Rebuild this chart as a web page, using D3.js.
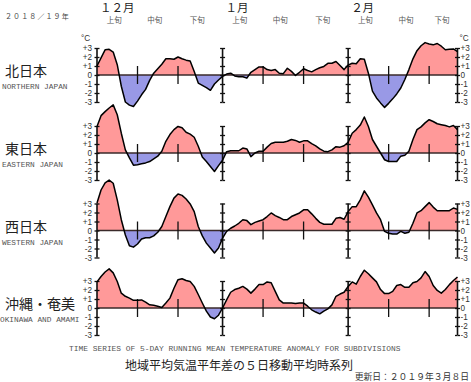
<!DOCTYPE html>
<html>
<head>
<meta charset="utf-8">
<script src="https://cdn.jsdelivr.net/npm/d3@7"></script>
<style>
body { margin:0; background:#fff; }
svg { display:block; }
</style>
</head>
<body>
<script>
// 5-day running mean anomaly, Dec 1 2018 .. Feb 28 2019 (one value per day)
var north = [1.0,1.9,2.8,2.85,2.55,1.15,-1.25,-3.0,-3.35,-3.5,-2.9,-2.2,-1.6,-0.6,0.2,0.7,1.2,1.8,1.8,1.75,2.0,1.8,1.65,1.55,0.4,-0.9,-1.15,-1.4,-1.7,-1.0,-0.55,
  -0.15,0.1,0.2,-0.1,-0.2,-0.2,-0.35,0.3,0.6,0.9,0.9,0.6,0.5,0.6,0.2,0.15,0.75,0.4,-0.05,0.3,0.7,0.5,0.35,0.6,0.8,0.95,1.3,1.3,1.5,1.05,0.6,
  1.1,1.3,1.25,1.8,1.75,0.2,-1.8,-2.55,-3.1,-3.6,-3.15,-2.65,-2.1,-1.45,-0.5,0.6,1.8,2.7,3.25,3.6,3.45,3.35,3.5,3.2,2.8,2.85,2.9,2.6];
var east = [2.95,4.15,4.6,5.0,5.35,4.25,2.2,0.35,-0.55,-1.35,-1.3,-1.2,-1.1,-0.95,-0.65,-0.35,0.2,1.3,2.05,2.6,2.95,2.8,2.3,2.1,1.75,0.75,-0.45,-0.95,-1.5,-2.05,-1.4,
  -0.8,0.15,0.25,0.25,0.25,0.55,0.45,-0.4,0.0,0.2,0.2,0.65,1.05,1.2,1.2,1.2,1.3,1.5,1.4,1.2,1.35,1.35,1.05,0.8,0.45,0.2,0.15,0.35,0.7,0.65,0.8,
  1.2,2.2,2.6,3.1,4.0,2.95,1.5,0.75,0.0,-0.75,-0.95,-0.95,-0.95,-0.35,-0.25,0.2,1.5,2.6,2.9,3.35,3.7,3.5,3.25,3.15,3.05,2.9,3.05,2.6];
var west = [3.05,4.5,5.3,5.6,5.25,3.4,1.2,-0.5,-1.7,-1.85,-1.5,-0.95,-0.8,-0.8,-0.6,-0.2,0.45,1.55,2.65,3.6,4.05,3.9,3.5,2.95,2.1,0.45,-0.6,-1.4,-1.95,-2.5,-1.95,
  -0.85,-0.1,0.25,0.5,0.8,1.2,1.1,0.65,0.9,1.05,1.2,1.55,1.95,1.65,1.45,1.2,1.2,1.55,1.75,1.95,2.3,2.3,1.85,1.35,0.9,0.7,0.7,0.7,1.35,1.45,1.25,
  2.1,2.65,2.65,3.4,4.4,3.7,2.85,1.95,1.2,-0.1,-0.3,-0.4,-0.4,-0.1,-0.3,-0.2,0.8,1.95,2.2,2.65,3.1,2.6,2.2,2.2,2.2,2.2,2.5,2.35];
var okinawa = [2.9,3.5,4.0,4.35,3.9,2.95,1.65,1.3,1.1,0.85,0.85,0.9,0.65,0.35,0.3,0.2,0.05,0.55,1.1,2.2,3.15,3.25,3.05,2.95,2.4,1.5,0.55,-0.35,-1.0,-1.2,-0.8,
  0.0,0.9,1.75,2.05,2.2,2.4,2.1,1.65,2.1,2.6,2.6,2.9,2.8,1.85,0.9,0.55,0.55,0.55,0.5,0.55,0.55,0.2,-0.2,-0.45,-0.65,-0.35,-0.1,0.35,1.3,1.55,1.75,
  2.4,2.9,2.65,3.5,4.2,3.8,3.35,2.9,2.05,1.6,1.6,1.85,2.5,2.6,2.3,2.3,2.8,2.95,3.35,4.05,3.5,2.5,1.95,1.65,2.05,2.6,3.05,3.45];

var regions = ["北日本", "東日本", "西日本", "沖縄・奄美"];
var regionsEn = ["NORTHERN JAPAN", "EASTERN JAPAN", "WESTERN JAPAN", "OKINAWA AND AMAMI"];
var series = [north, east, west, okinawa];
var monthLabels = ["１２月", "１月", "２月"];
var dekadLabels = ["上旬", "中旬", "下旬"];
var yTicks = [-3,-2,-1,0,1,2,3];
var yTickLabels = ["-3","-2","-1","0","+1","+2","+3"];

var start = new Date(2018, 11, 1);
var dates = north.map(function(v, i) { return d3.timeDay.offset(start, i); });
var monthStarts = [new Date(2018,11,1), new Date(2019,0,1), new Date(2019,1,1)];

var W = 471, H = 382;
var zeros = [75, 153, 230.5, 308];

var svg = d3.select("body").append("svg")
            .attr("width", W)
            .attr("height", H);

var x = d3.scaleTime()
          .domain([dates[0], dates[dates.length-1]])
          .range([97, 457.5]);

var jp = "'Noto Sans CJK JP', sans-serif";
var mono = "'Liberation Mono', 'DejaVu Sans Mono', monospace";
var sans = "'Liberation Sans', Arial, sans-serif";

// header
svg.append("text")
   .attr("x", 5).attr("y", 19)
   .attr("font-family", jp).attr("font-size", 7).attr("letter-spacing", 1.1)
   .attr("fill", "#444")
   .text("２０１８／１９年");

monthStarts.forEach(function(m, i) {
  svg.append("text")
     .attr("x", x(m) + 3).attr("y", 11.5)
     .attr("font-family", jp).attr("font-size", 11.5)
     .attr("fill", "#222")
     .text(monthLabels[i]);
  [0,1,2].forEach(function(k) {
    var a = d3.timeDay.offset(m, k*10);
    var b = k < 2 ? d3.timeDay.offset(m, k*10+10) : d3.timeMonth.offset(m, 1);
    var cx = (x(a) + Math.min(x(b), 461)) / 2 - 3;
    svg.append("text")
       .attr("x", cx).attr("y", 23)
       .attr("text-anchor", "middle")
       .attr("font-family", jp).attr("font-size", 7.5)
       .attr("fill", "#555")
       .text(dekadLabels[k]);
  });
});

var defs = svg.append("defs");

series.forEach(function(vals, p) {
  var z = zeros[p];
  var y = d3.scaleLinear().domain([-3, 3]).range([z + 27, z - 27]);
  var g = svg.append("g");

  defs.append("clipPath").attr("id", "pos" + p)
      .append("rect").attr("x", 0).attr("y", 0).attr("width", W).attr("height", y(0));
  defs.append("clipPath").attr("id", "neg" + p)
      .append("rect").attr("x", 0).attr("y", y(0)).attr("width", W).attr("height", H - y(0));

  var area = d3.area()
               .x(function(d, i) { return x(dates[i]); })
               .y0(y(0))
               .y1(function(d) { return y(d); });
  var line = d3.line()
               .x(function(d, i) { return x(dates[i]); })
               .y(function(d) { return y(d); });

  g.append("path").datum(vals)
   .attr("d", area).attr("fill", "#ff9999")
   .attr("clip-path", "url(#pos" + p + ")");
  g.append("path").datum(vals)
   .attr("d", area).attr("fill", "#9999e6")
   .attr("clip-path", "url(#neg" + p + ")");

  // zero line
  g.append("line")
   .attr("x1", x(dates[0])).attr("x2", x(dates[dates.length-1]))
   .attr("y1", y(0)).attr("y2", y(0))
   .attr("stroke", "#3a2a2a").attr("stroke-width", 1.5);

  // dekad ticks
  monthStarts.forEach(function(m) {
    [10, 20].forEach(function(k) {
      var xx = x(d3.timeDay.offset(m, k));
      g.append("line")
       .attr("x1", xx).attr("x2", xx)
       .attr("y1", y(1)).attr("y2", y(-1))
       .attr("stroke", "#111").attr("stroke-width", 1.3);
    });
  });

  // axes and month boundaries with serif ticks
  var bars = [dates[0], monthStarts[1], monthStarts[2], dates[dates.length-1]];
  bars.forEach(function(d, i) {
    var xx = x(d);
    var ax = g.append("g").attr("transform", "translate(" + xx + ",0)");
    var axL = d3.axisLeft(y).tickValues(yTicks).tickSize(2.5).tickPadding(2.5)
                .tickFormat(function(t, j) { return i == 0 ? yTickLabels[j] : ""; });
    var axR = d3.axisRight(y).tickValues(yTicks).tickSize(2.5).tickPadding(0.5)
                .tickFormat(function(t, j) { return i == 3 ? yTickLabels[j] : ""; });
    ax.append("g").call(axL);
    ax.append("g").call(axR);
    ax.selectAll(".domain").remove();
    ax.selectAll(".tick line").attr("stroke", "#111").attr("stroke-width", 1.3);
    ax.selectAll(".tick text")
      .attr("font-family", sans)
      .attr("font-size", 8.2).attr("fill", "#333");
    ax.append("line")
      .attr("x1", 0).attr("x2", 0)
      .attr("y1", y(3)).attr("y2", y(-3))
      .attr("stroke", "#111").attr("stroke-width", 1.6);
  });

  // curve
  g.append("path").datum(vals)
   .attr("d", line).attr("fill", "none")
   .attr("stroke", "#000").attr("stroke-width", 1.5)
   .attr("stroke-linejoin", "round");

  // region labels
  svg.append("text")
     .attr("x", 5).attr("y", z + 1)
     .attr("font-family", jp).attr("font-size", 14)
     .attr("fill", "#222")
     .text(regions[p]);
  svg.append("text")
     .attr("x", p == 3 ? 0 : 2).attr("y", z + 14)
     .attr("font-family", mono).attr("font-size", 7.8)
     .attr("fill", "#555")
     .text(regionsEn[p]);

  if (p == 0) {
    svg.append("text").attr("x", 81).attr("y", 41)
       .attr("font-family", sans).attr("font-size", 8.2)
       .attr("fill", "#333").text("°C");
    svg.append("text").attr("x", 459.5).attr("y", 41)
       .attr("font-family", sans).attr("font-size", 8.2)
       .attr("fill", "#333").text("°C");
  }
});

// footer
svg.append("text")
   .attr("x", 69).attr("y", 351)
   .attr("font-family", mono).attr("font-size", 7.9)
   .attr("fill", "#555")
   .text("TIME SERIES OF 5-DAY RUNNING MEAN TEMPERATURE ANOMALY FOR SUBDIVISIONS");
svg.append("text")
   .attr("x", 125).attr("y", 370)
   .attr("font-family", jp).attr("font-size", 12)
   .attr("fill", "#222")
   .text("地域平均気温平年差の５日移動平均時系列");
svg.append("text")
   .attr("x", 469).attr("y", 380)
   .attr("text-anchor", "end")
   .attr("font-family", jp).attr("font-size", 8.8)
   .attr("fill", "#333")
   .text("更新日：２０１９年３月８日");
</script>
</body>
</html>
